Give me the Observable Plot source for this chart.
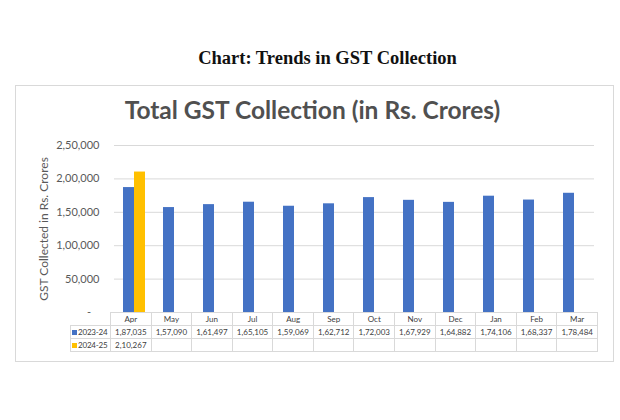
<!DOCTYPE html>
<html>
<head>
<meta charset="utf-8">
<script src="https://cdn.jsdelivr.net/npm/d3@7"></script>
<script src="https://cdn.jsdelivr.net/npm/@observablehq/plot@0.6"></script>
<style>
  html, body { margin: 0; padding: 0; background: #fff; }
  #page { position: relative; width: 620px; height: 420px; overflow: hidden; background: #fff; font-family: Lato, "Open Sans", sans-serif; }
  #caption { position: absolute; left: 0; width: 655px; top: 48px; text-align: center; font-family: "Liberation Serif", serif; font-weight: bold; font-size: 18.5px; color: #111; }
  #box { position: absolute; left: 15px; top: 85px; width: 597px; height: 275px; border: 1px solid #d9d9d9; }
  #title { position: absolute; left: 0; width: 625px; top: 95px; text-align: center; font-size: 24.5px; font-weight: bold; color: #505050; }
  #chart { position: absolute; left: 0; top: 0; }
  #chart [aria-label="y-axis label"] { font-size: 12px; }
  #tbl { position: absolute; left: 70px; top: 312px; border-collapse: collapse; table-layout: fixed; width: 528px; font-size: 8px; color: #404040; }
  #tbl td { border: 1px solid #d9d9d9; height: 12px; padding: 0; line-height: 12px; text-align: center; white-space: nowrap; overflow: hidden; }
  #tbl td.corner { border-top: none; border-left: none; }
  #tbl td.rowhead { text-align: left; padding-left: 1px; letter-spacing: -0.2px; }
  .sw { display: inline-block; width: 5px; height: 5px; margin-right: 1px; vertical-align: 0px; }
</style>
</head>
<body>
<div id="page">
  <div id="caption">Chart: Trends in GST Collection</div>
  <div id="box"></div>
  <div id="title">Total GST Collection (in Rs. Crores)</div>
  <div id="chart"></div>
  <table id="tbl"></table>
</div>
<script>
const months = ["Apr","May","Jun","Jul","Aug","Sep","Oct","Nov","Dec","Jan","Feb","Mar"];
const seriesNames = ["2023-24","2024-25"];
const seriesColors = ["#4472c4","#ffc000"];
const values2324 = [187035,157090,161497,165105,159069,162712,172003,167929,164882,174106,168337,178484];
const values2425 = [210267];
const yTicks = [0,50000,100000,150000,200000,250000];
const yTickLabels = ["-","50,000","1,00,000","1,50,000","2,00,000","2,50,000"];
const yTitle = "GST Collected in Rs. Crores";

const indian = d3.formatLocale({decimal: ".", thousands: ",", grouping: [3,2,2,2,2,2,2], currency: ["", ""]}).format(",d");

const rows = [];
values2324.forEach((v, i) => rows.push({month: months[i], series: seriesNames[0], value: v}));
values2425.forEach((v, i) => rows.push({month: months[i], series: seriesNames[1], value: v}));

const chart = Plot.plot({
  width: 620,
  height: 420,
  marginLeft: 110,
  marginRight: 22,
  marginTop: 145,
  marginBottom: 108,
  style: {background: "transparent", fontFamily: "Lato, 'Open Sans', sans-serif", fontSize: "11px", color: "#595959", overflow: "visible"},
  fx: {domain: months, padding: 0, axis: null, label: null},
  x: {domain: seriesNames, paddingInner: 0, paddingOuter: 0.68, axis: null, label: null},
  y: {
    domain: [0, 250000],
    ticks: yTicks,
    tickFormat: (d) => { const s = yTickLabels[yTicks.indexOf(d)]; return s === "-" ? "-\u00a0\u00a0\u00a0" : s; },
    tickSize: 0,
    tickPadding: 15,
    label: yTitle,
    labelArrow: false,
    labelAnchor: "center",
    labelOffset: 75
  },
  color: {domain: seriesNames, range: seriesColors},
  marks: [
    Plot.ruleY(yTicks.slice(1), {stroke: "#d9d9d9", strokeWidth: 1}),
    Plot.barY(rows, {fx: "month", x: "series", y: "value", fill: "series"})
  ]
});
document.getElementById("chart").appendChild(chart);

// data table below the plot
const tbl = d3.select("#tbl");
const cg = tbl.append("colgroup");
cg.append("col").style("width", "40px");
months.forEach(() => cg.append("col"));
const head = tbl.append("tr");
head.append("td").attr("class", "corner");
months.forEach(m => head.append("td").text(m));
[values2324, values2425].forEach((vals, si) => {
  const tr = tbl.append("tr");
  const th = tr.append("td").attr("class", "rowhead");
  th.append("span").attr("class", "sw").style("background", seriesColors[si]);
  th.append("span").text(seriesNames[si]);
  months.forEach((m, i) => tr.append("td").text(vals[i] != null ? indian(vals[i]) : ""));
});
</script>
</body>
</html>
